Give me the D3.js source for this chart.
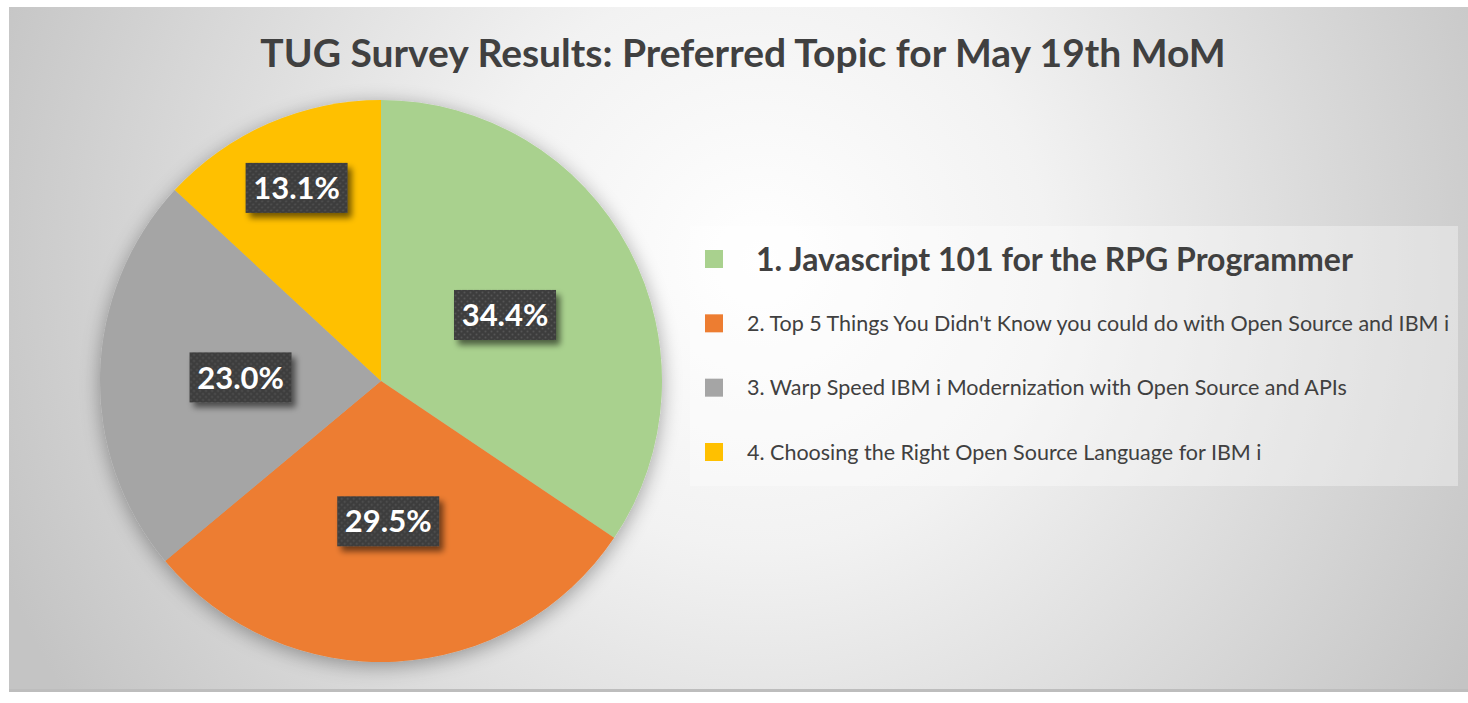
<!DOCTYPE html>
<html><head><meta charset="utf-8">
<script src="https://cdn.jsdelivr.net/npm/d3@7"></script>
<style>html,body{margin:0;padding:0;background:#fff;}svg{display:block;}</style>
</head><body>
<svg id="c" width="1468" height="703"></svg>
<script>
const categories = [
  "1. Javascript 101 for the RPG Programmer",
  "2. Top 5 Things You Didn't Know you could do with Open Source and IBM i",
  "3. Warp Speed IBM i Modernization with Open Source and APIs",
  "4. Choosing the Right Open Source Language for IBM i"
];
const votes = [21, 18, 14, 8];
const colors = ["#a9d18e", "#ed7d31", "#a5a5a5", "#ffc000"];
const title = "TUG Survey Results: Preferred Topic for May 19th MoM";

const FONT = "Lato, 'Open Sans', sans-serif";
const svg = d3.select("#c");
const defs = svg.append("defs");
const bg = defs.append("radialGradient").attr("id","bg").attr("gradientUnits","userSpaceOnUse")
  .attr("cx",760).attr("cy",260).attr("r",820);
bg.append("stop").attr("offset","0").attr("stop-color","#ffffff");
bg.append("stop").attr("offset","0.35").attr("stop-color","#f2f2f2");
bg.append("stop").attr("offset","1").attr("stop-color","#c4c4c4");

const f = defs.append("filter").attr("id","pieShadow").attr("x","-20%").attr("y","-20%").attr("width","140%").attr("height","140%");
f.append("feGaussianBlur").attr("in","SourceAlpha").attr("stdDeviation",10);
f.append("feOffset").attr("dy",4).attr("result","b");
f.append("feComponentTransfer").append("feFuncA").attr("type","linear").attr("slope",0.35);
const fm = f.append("feMerge"); fm.append("feMergeNode"); fm.append("feMergeNode").attr("in","SourceGraphic");

const f2 = defs.append("filter").attr("id","boxShadow").attr("x","-20%").attr("y","-30%").attr("width","150%").attr("height","180%");
f2.append("feGaussianBlur").attr("in","SourceAlpha").attr("stdDeviation",3);
f2.append("feOffset").attr("dx",4).attr("dy",5);
f2.append("feComponentTransfer").append("feFuncA").attr("type","linear").attr("slope",0.55);
const fm2 = f2.append("feMerge"); fm2.append("feMergeNode"); fm2.append("feMergeNode").attr("in","SourceGraphic");

const pat = defs.append("pattern").attr("id","dots").attr("patternUnits","userSpaceOnUse").attr("width",6).attr("height",6);
pat.append("rect").attr("width",6).attr("height",6).attr("fill","#3d3d3d");
pat.append("circle").attr("cx",1.5).attr("cy",1.5).attr("r",1).attr("fill","#555555");
pat.append("circle").attr("cx",4.5).attr("cy",4.5).attr("r",1).attr("fill","#555555");

// background
svg.append("rect").attr("x",9).attr("y",7).attr("width",1459).attr("height",685).attr("fill","url(#bg)");
svg.append("rect").attr("x",9).attr("y",689).attr("width",1459).attr("height",3).attr("fill","#bdbdbd");

// title
svg.append("text").attr("x",743).attr("y",67).attr("text-anchor","middle")
  .attr("font-family",FONT).attr("font-weight","bold")
  .attr("font-size",39).attr("fill","#404040").text(title);

// pie
const cx = 381, cy = 381, R = 281;
const pie = d3.pie().sort(null).value(d => d)(votes);
const arc = d3.arc().innerRadius(0).outerRadius(R);
const total = d3.sum(votes);
const g = svg.append("g").attr("transform",`translate(${cx},${cy})`);
g.append("g").attr("filter","url(#pieShadow)").selectAll("path").data(pie).join("path")
  .attr("d",arc).attr("fill",(d,i)=>colors[i]);

// labels (small slices pushed outward, like Excel's best fit)
const fmt = d3.format(".1%");
const labelPos = d => {
  const r = (d.value/total < 0.15) ? R*0.75 : R*0.5;
  return d3.arc().innerRadius(r).outerRadius(r).centroid(d);
};
const lg = g.append("g").selectAll("g").data(pie).join("g")
  .attr("transform", d => { const c = labelPos(d); return `translate(${c[0]},${c[1]})`; });
lg.append("rect").attr("x",-51).attr("y",-25).attr("width",102).attr("height",50)
  .attr("fill","url(#dots)").attr("filter","url(#boxShadow)");
lg.append("text").attr("text-anchor","middle").attr("dy","0.36em")
  .attr("font-family",FONT).attr("font-weight","bold")
  .attr("font-size",31).attr("fill","#ffffff").text(d => fmt(d.value/total));

// legend
svg.append("rect").attr("x",690).attr("y",226).attr("width",768).attr("height",260)
  .attr("fill","#ffffff").attr("fill-opacity",0.35);
const ly = d3.scalePoint().domain(categories).range([259, 452]);
const leg = svg.append("g").selectAll("g").data(categories).join("g")
  .attr("transform", d => `translate(0,${ly(d)})`);
leg.append("rect").attr("x",705).attr("y",-9).attr("width",18).attr("height",18)
  .attr("fill",(d,i)=>colors[i]);
leg.append("text").attr("x",(d,i)=> i===0 ? 756 : 747).attr("dy","0.36em")
  .attr("font-family",FONT)
  .attr("font-weight",(d,i)=> i===0 ? "bold" : "normal")
  .attr("font-size",(d,i)=> i===0 ? 32 : 21.5).attr("fill","#404040").text(d => d);
</script>
</body></html>
